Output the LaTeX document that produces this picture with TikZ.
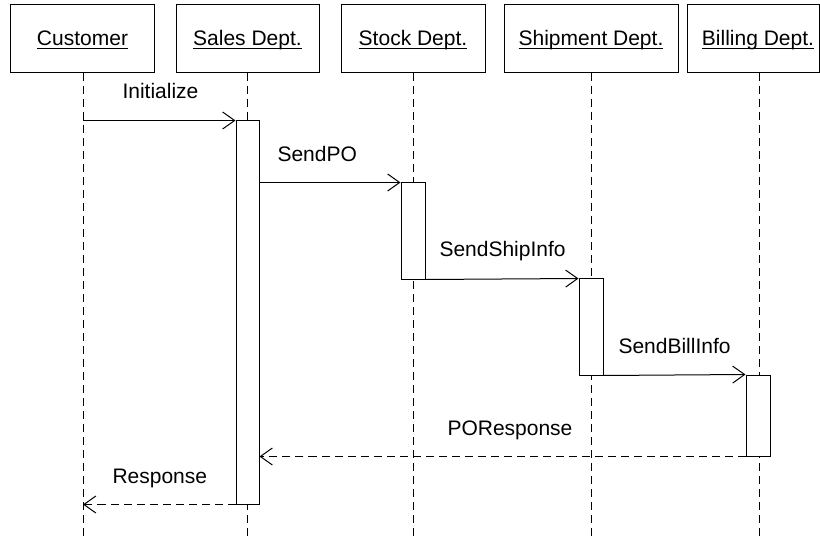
\documentclass[tikz,border=0pt]{standalone}
\usepackage{fontspec}
\setmainfont{Liberation Sans}
\usetikzlibrary{arrows.meta}
\newcommand\myul[1]{\setbox0\hbox{#1}\rlap{\rule[-3.5bp]{\wd0}{1bp}}\box0}
\begin{document}
\begin{tikzpicture}[x=1bp,y=-1bp, line width=1bp, font=\fontsize{21bp}{25bp}\selectfont,
  head/.style={draw, rectangle, inner sep=0pt, minimum height=68bp},
  act/.style={draw, fill=white, rectangle, inner sep=0pt, minimum width=24bp},
  life/.style={dash pattern=on 8bp off 5bp},
  msg/.style={-{Straight Barb[length=12bp,width=17bp]}},
  ret/.style={msg, dash pattern=on 8bp off 5bp},
  lbl/.style={anchor=base west, inner sep=0pt},
  hl/.style={anchor=base, inner sep=0pt}]
\useasboundingbox (0,0) rectangle (820,539);
% heads
\node[head, minimum width=143bp] (h1) at (82.5,39) {};
\node[head, minimum width=143bp] (h2) at (247.5,39) {};
\node[head, minimum width=144bp] (h3) at (413,39) {};
\node[head, minimum width=174bp] (h4) at (591,39) {};
\node[head, minimum width=132bp] (h5) at (753,39) {};
\node[hl] (n1) at (82.5,46) {\myul{Customer}};
\node[hl] (n2) at (247.5,46) {\myul{Sales Dept.}};
\node[hl] (n3) at (413,46) {\myul{Stock Dept.}};
\node[hl] (n4) at (591,46) {\myul{Shipment Dept.}};
\node[hl] (n5) at (758,46) {\myul{Billing Dept.}};
% lifelines
\coordinate (b1) at (83,73);  \coordinate (e1) at (83,539);
\coordinate (b2) at (247.5,73); \coordinate (e2) at (247.5,539);
\coordinate (b3) at (413,73); \coordinate (e3) at (413,539);
\coordinate (b4) at (591,73); \coordinate (e4) at (591,539);
\coordinate (b5) at (759,73); \coordinate (e5) at (759,539);
\draw[life] (b1) -- (e1);
\draw[life] (b2) -- (e2);
\draw[life] (b3) -- (e3);
\draw[life] (b4) -- (e4);
\draw[life] (b5) -- (e5);
% activations
\node[act, minimum width=23bp, minimum height=383bp] (a1) at (247.5,312.5) {};
\node[act, minimum height=96bp] (a2) at (413,231) {};
\node[act, minimum height=96bp] (a3) at (591,327) {};
\node[act, minimum height=81bp] (a4) at (758,415.5) {};
% messages
\draw[msg] (b1 |- a1.north) -- (a1.north west);
\draw[msg] (a1.east |- a2.north) -- (a2.north west);
\draw[msg] (a2.south east) -- (a3.north west);
\draw[msg] (a3.south east) -- (a4.north west);
\draw[ret] (a4.south west) -- (a1.east |- a4.south);
\draw[ret] (a1.south west) -- (b1 |- a1.south);
% labels
\node[lbl] (t1) at (122,99) {Initialize};
\node[lbl] (t2) at (277,162) {SendPO};
\node[lbl] (t3) at (439,257) {SendShipInfo};
\node[lbl] (t4) at (618,353) {SendBillInfo};
\node[lbl] (t5) at (447,435) {POResponse};
\node[lbl] (t6) at (112,483) {Response};
\end{tikzpicture}
\end{document}
